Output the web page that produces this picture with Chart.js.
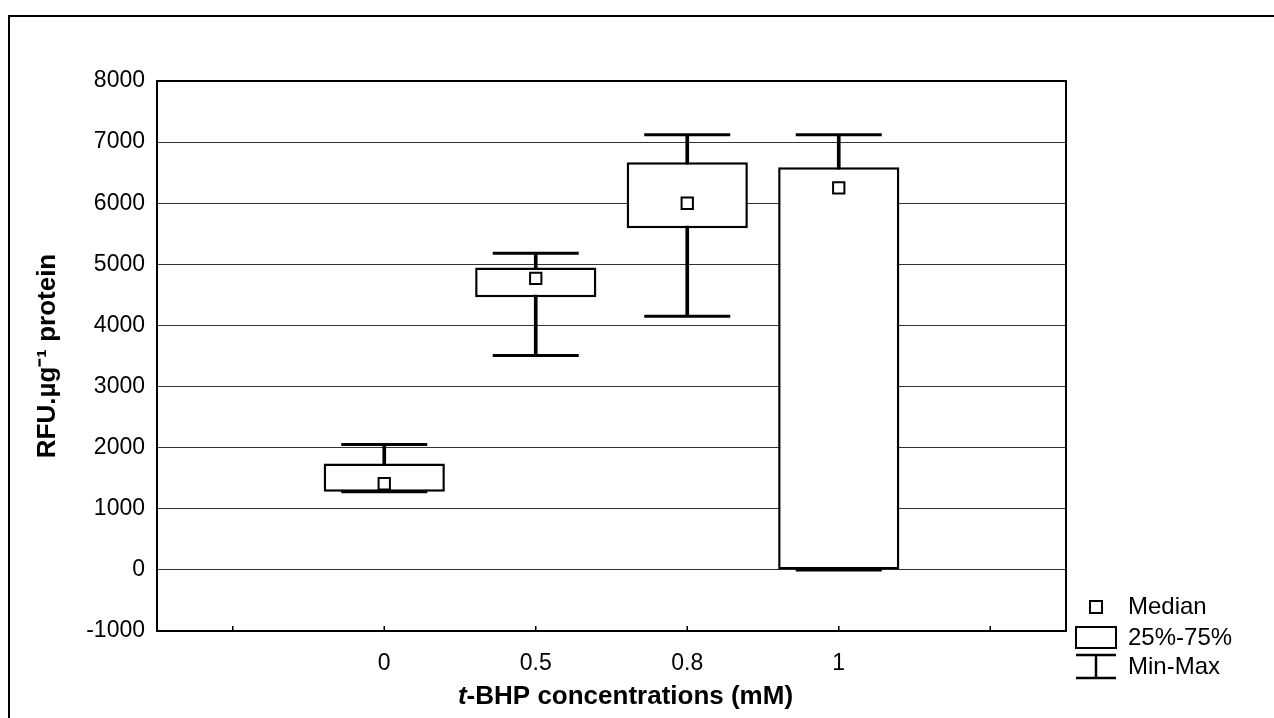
<!DOCTYPE html>
<html>
<head>
<meta charset="utf-8">
<script src="https://cdn.jsdelivr.net/npm/chart.js@4.4.1/dist/chart.umd.min.js"></script>
<style>
  html, body { margin: 0; padding: 0; background: #fff; }
  #wrap { position: relative; width: 1274px; height: 718px; overflow: hidden; }
  #frame { position: absolute; left: 8px; top: 15px; width: 1400px; height: 800px;
           border-left: 2px solid #000; border-top: 2px solid #000; }
  #c { position: absolute; left: 0; top: 0; }
</style>
</head>
<body>
<div id="wrap">
  <div id="frame"></div>
  <canvas id="c" width="1274" height="718"></canvas>
</div>
<script>
// ---- data ----
const categories   = ['', '0', '0.5', '0.8', '1', ''];
const minValues    = [null, 1280, 3510, 4150, 0, null];
const q1Values     = [null, 1280, 4460, 5590, 0, null];
const medianValues = [null, 1410, 4770, 6000, 6250, null];
const q3Values     = [null, 1740, 4950, 6670, 6590, null];
const maxValues    = [null, 2050, 5180, 7120, 7120, null];
const yTicks       = [-1000, 0, 1000, 2000, 3000, 4000, 5000, 6000, 7000, 8000];
const legendLabels = ['Median', '25%-75%', 'Min-Max'];
const yTitle = 'RFU.\u00B5g\u207B\u00B9 protein';
const xTitleItalic = 't';
const xTitleRest = '-BHP concentrations (mM)';

const FONT = '"Liberation Sans", Arial, Helvetica, sans-serif';

const boxData = q1Values.map((v, i) => (v === null ? null : [v, q3Values[i]]));
const whiskerData = minValues.map((v, i) => (v === null ? null : [v, maxValues[i]]));

const framePlugin = {
  id: 'framePlugin',
  afterDraw(chart) {
    const {ctx, chartArea: a, scales} = chart;
    ctx.save();
    ctx.strokeStyle = '#000';
    ctx.lineWidth = 2;
    ctx.strokeRect(a.left, a.top, a.right - a.left, a.bottom - a.top);
    // small inward tick marks on x axis
    ctx.lineWidth = 1.5;
    const xs = scales.x;
    xs.ticks.forEach((t, i) => {
      const px = xs.getPixelForTick(i);
      ctx.beginPath();
      ctx.moveTo(px, a.bottom);
      ctx.lineTo(px, a.bottom - 5);
      ctx.stroke();
    });
    // x axis title (italic t)
    ctx.fillStyle = '#000';
    ctx.textBaseline = 'middle';
    ctx.textAlign = 'left';
    const fItal = 'italic bold 26px ' + FONT;
    const fBold = 'bold 26px ' + FONT;
    ctx.font = fItal; const w1 = ctx.measureText(xTitleItalic).width;
    ctx.font = fBold; const w2 = ctx.measureText(xTitleRest).width;
    const cx = (a.left + a.right) / 2 + 14;
    const tx = cx - (w1 + w2) / 2;
    ctx.font = fItal; ctx.fillText(xTitleItalic, tx, 697);
    ctx.font = fBold; ctx.fillText(xTitleRest, tx + w1, 697);
    // legend
    const x0 = a.right + 10;
    const b = a.bottom;
    ctx.lineWidth = 2;
    ctx.fillStyle = '#fff';
    ctx.fillRect(x0 + 14, b - 30, 12, 12);
    ctx.strokeRect(x0 + 14, b - 30, 12, 12);
    ctx.strokeRect(x0, b - 4, 40, 21);
    ctx.lineWidth = 2.5;
    ctx.beginPath();
    ctx.moveTo(x0, b + 24); ctx.lineTo(x0 + 40, b + 24);
    ctx.moveTo(x0 + 20, b + 24); ctx.lineTo(x0 + 20, b + 47);
    ctx.moveTo(x0, b + 47); ctx.lineTo(x0 + 40, b + 47);
    ctx.stroke();
    ctx.fillStyle = '#000';
    ctx.font = '24px ' + FONT;
    const ys = [b - 24, b + 7, b + 36];
    legendLabels.forEach((t, i) => ctx.fillText(t, x0 + 52, ys[i]));
    ctx.restore();
  }
};

new Chart(document.getElementById('c'), {
  type: 'bar',
  data: {
    labels: categories,
    datasets: [
      {
        type: 'line', label: 'Median', data: medianValues, order: 0,
        showLine: false, pointStyle: 'rect', pointRadius: 8, pointHoverRadius: 8,
        pointBackgroundColor: '#fff', pointBorderColor: '#000', pointBorderWidth: 2
      },
      {
        type: 'line', label: 'Max', data: maxValues, order: 1,
        showLine: false, pointStyle: 'line', pointRadius: 43, pointHoverRadius: 43,
        pointBorderColor: '#000', pointBorderWidth: 3
      },
      {
        type: 'line', label: 'Min', data: minValues, order: 1,
        showLine: false, pointStyle: 'line', pointRadius: 43, pointHoverRadius: 43,
        pointBorderColor: '#000', pointBorderWidth: 3
      },
      {
        type: 'bar', label: '25%-75%', data: boxData, order: 2, grouped: false,
        backgroundColor: '#fff', borderColor: '#000', borderWidth: 2.5,
        borderSkipped: false, barPercentage: 0.8, categoryPercentage: 1
      },
      {
        type: 'bar', label: 'Min-Max', data: whiskerData, order: 3, grouped: false,
        backgroundColor: '#000', borderWidth: 0, barThickness: 3
      }
    ]
  },
  options: {
    responsive: false,
    animation: false,
    events: [],
    layout: { padding: { top: 81, left: 0, right: 208, bottom: 0 } },
    plugins: { legend: { display: false }, tooltip: { enabled: false } },
    scales: {
      x: {
        offset: true,
        grid: { display: false, drawTicks: false },
        border: { display: true, color: '#000', width: 2 },
        ticks: { color: '#000', font: { family: FONT, size: 23 }, padding: 19, maxRotation: 0, autoSkip: false },
        title: { display: false },
        afterFit(s) { s.height = 87; }
      },
      y: {
        min: -1000, max: 8000,
        afterBuildTicks(s) { s.ticks = yTicks.map(v => ({ value: v })); },
        grid: { color: '#333', lineWidth: 1, drawTicks: false },
        border: { display: true, color: '#000', width: 2 },
        ticks: { color: '#000', font: { family: FONT, size: 23 }, padding: 12,
                 callback: v => String(v) },
        title: { display: true, text: yTitle, color: '#000',
                 font: { family: FONT, size: 26, weight: 'bold' }, padding: { top: 32, bottom: 0 } },
        afterFit(s) { s.width = 157; }
      }
    }
  },
  plugins: [framePlugin]
});
</script>
</body>
</html>
